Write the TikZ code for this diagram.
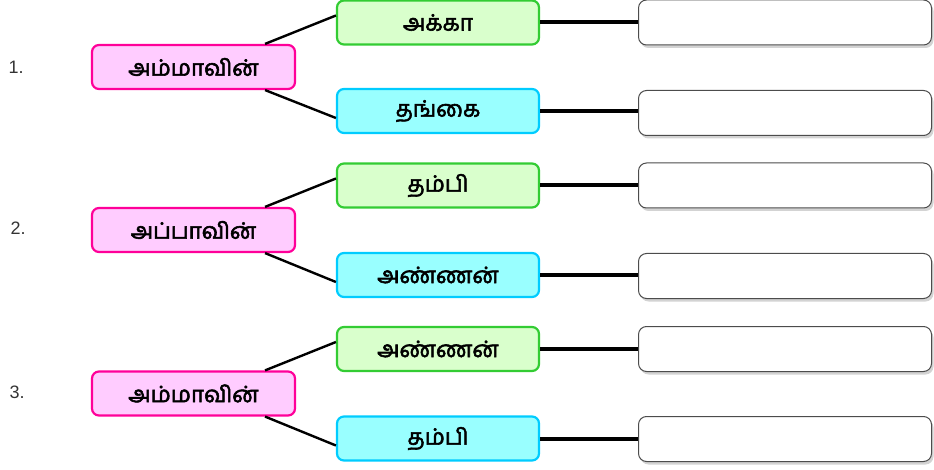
\documentclass[tikz,border=0pt]{standalone}
\usepackage{fontspec}
\setmainfont{Liberation Sans}
\newfontfamily\tamilfont[Script=Tamil, AutoFakeBold=2.5]{Hind Madurai}
\usetikzlibrary{shadows}

\definecolor{pinkfill}{HTML}{FFCCFF}
\definecolor{pinkline}{HTML}{FF0099}
\definecolor{greenfill}{HTML}{D9FFCC}
\definecolor{greenline}{HTML}{33CC33}
\definecolor{cyanfill}{HTML}{99FFFF}
\definecolor{cyanline}{HTML}{00CCFF}

\tikzset{
  whobox/.style={line width=2.2pt, rounded corners=7pt, minimum height=44pt,
    font=\tamilfont\bfseries\fontsize{22.5}{25}\selectfont, inner sep=0pt},
  parentbox/.style={whobox, draw=pinkline, fill=pinkfill, minimum width=203pt},
  elderbox/.style={whobox, draw=greenline, fill=greenfill, minimum width=202pt},
  youngbox/.style={whobox, draw=cyanline, fill=cyanfill, minimum width=202pt},
  answerbox/.style={draw=black!70, line width=1pt, fill=white, rounded corners=8pt,
    minimum width=293pt, minimum height=45pt,
    drop shadow={shadow xshift=2pt, shadow yshift=-3pt, opacity=0.35}},
  numlabel/.style={anchor=west, font=\fontsize{18}{20}\selectfont, text=black!80},
  thinlink/.style={line width=2.4pt},
  thicklink/.style={line width=4pt}
}

\begin{document}
\begin{tikzpicture}[x=1pt, y=-1pt]
    \useasboundingbox (0,0) rectangle (934,470);

    % group 1
    \node[numlabel] (n1) at (5,67) {1.};
    \node[parentbox] (p1) at (193.5,67) {அம்மாவின்};
    \node[elderbox] (e1) at (438,22.5) {அக்கா};
    \node[youngbox] (y1) at (438,111) {தங்கை};
    \node[answerbox] (a1) at (785,22.5) {};
    \node[answerbox] (b1) at (785,113) {};
    \draw[thinlink] ([xshift=-31pt]p1.north east) -- ([yshift=7pt]e1.west);
    \draw[thinlink] ([xshift=-31pt]p1.south east) -- ([yshift=-7pt]y1.west);
    \draw[thicklink] (e1.east) -- (e1.east -| a1.west);
    \draw[thicklink] (y1.east) -- (y1.east -| b1.west);

    % group 2
    \node[numlabel] (n2) at (7,228) {2.};
    \node[parentbox] (p2) at (193.5,230) {அப்பாவின்};
    \node[elderbox] (e2) at (438,185.5) {தம்பி};
    \node[youngbox] (y2) at (438,275) {அண்ணன்};
    \node[answerbox] (a2) at (785,185.5) {};
    \node[answerbox] (b2) at (785,276) {};
    \draw[thinlink] ([xshift=-31pt]p2.north east) -- ([yshift=7pt]e2.west);
    \draw[thinlink] ([xshift=-31pt]p2.south east) -- ([yshift=-7pt]y2.west);
    \draw[thicklink] (e2.east) -- (e2.east -| a2.west);
    \draw[thicklink] (y2.east) -- (y2.east -| b2.west);

    % group 3
    \node[numlabel] (n3) at (6,392) {3.};
    \node[parentbox] (p3) at (193.5,393.5) {அம்மாவின்};
    \node[elderbox] (e3) at (438,349) {அண்ணன்};
    \node[youngbox] (y3) at (438,438.5) {தம்பி};
    \node[answerbox] (a3) at (785,349) {};
    \node[answerbox] (b3) at (785,439) {};
    \draw[thinlink] ([xshift=-31pt]p3.north east) -- ([yshift=7pt]e3.west);
    \draw[thinlink] ([xshift=-31pt]p3.south east) -- ([yshift=-7pt]y3.west);
    \draw[thicklink] (e3.east) -- (e3.east -| a3.west);
    \draw[thicklink] (y3.east) -- (y3.east -| b3.west);
\end{tikzpicture}
\end{document}
